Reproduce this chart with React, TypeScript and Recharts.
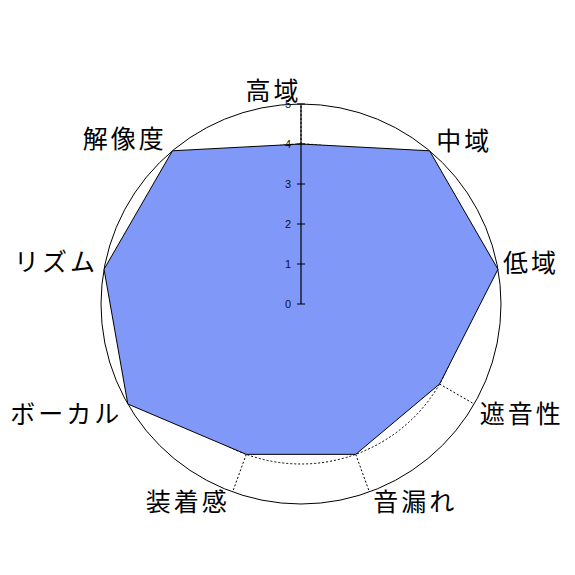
import React from 'react'
import { PolarAngleAxis, PolarGrid, PolarRadiusAxis, Radar, RadarChart } from 'recharts'

const categories = ['高域', '中域', '低域', '遮音性', '音漏れ', '装着感', 'ボーカル', 'リズム', '解像度']
const scores = [4, 5, 5, 4, 4, 4, 5, 5, 5]
const radiusTicks = [0, 1, 2, 3, 4, 5]

const data = categories.map((name, i) => ({ name, score: scores[i] }))

// nudges to line the labels up with the original placement
const labelNudge: [number, number][] = [
    [-29, 15],
    [14, 11],
    [2, -3],
    [20, -7],
    [34, -20],
    [-36, -20],
    [-37, -7],
    [-20, -4],
    [-30, 9],
]

type TickProps = {
    index?: number
    payload?: { value: string | number }
    x?: number
    y?: number
}

const AngleTick = ({ x = 0, y = 0, payload, index = 0 }: TickProps) => {
    const [dx, dy] = labelNudge[index] || [0, 0]
    return (
        <text
            dominantBaseline="central"
            fill="#000"
            fontFamily="Noto Sans CJK JP"
            fontSize={25}
            letterSpacing={3}
            textAnchor="middle"
            x={x + dx + 1.5}
            y={y + dy}
        >
            {payload?.value}
        </text>
    )
}

const RadiusTick = ({ x = 0, y = 0, payload }: TickProps) => (
    <g>
        <line stroke="#000" strokeWidth={1} x1={x - 4} x2={x + 4} y1={y} y2={y} />
        <text dominantBaseline="central" fill="#111" fontFamily="Liberation Sans" fontSize={11} textAnchor="end" x={x - 10} y={y}>
            {payload?.value}
        </text>
    </g>
)

const App = () => (
    <div style={{ background: '#fff', height: 575, left: 0, position: 'absolute', top: 0, width: 575 }}>
        <RadarChart cx={301} cy={304} data={data} height={575} margin={{ bottom: 0, left: 0, right: 0, top: 0 }} outerRadius={200} width={575}>
            <PolarGrid gridType="circle" polarRadius={[0, 40, 80, 120, 160]} stroke="#000" strokeDasharray="2 2" />
            <PolarGrid gridType="circle" polarRadius={[200]} radialLines={false} stroke="#000" />
            <PolarAngleAxis axisLine={false} dataKey="name" tick={<AngleTick />} tickLine={false} tickSize={30} />
            <Radar dataKey="score" fill="#8098f8" fillOpacity={1} isAnimationActive={false} stroke="#000" strokeWidth={1} />
            <PolarRadiusAxis
                angle={90}
                axisLine={{ stroke: '#000', strokeWidth: 1.2 }}
                domain={[0, 5]}
                tick={<RadiusTick />}
                tickCount={radiusTicks.length}
                ticks={radiusTicks as any}
            />
        </RadarChart>
    </div>
)

export default App
